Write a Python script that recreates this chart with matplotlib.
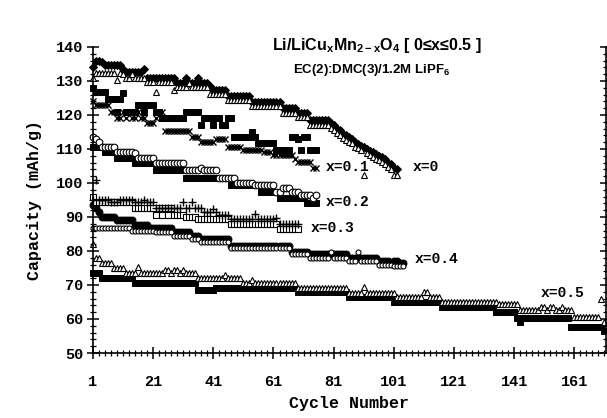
import matplotlib
matplotlib.use("Agg")
import matplotlib.pyplot as plt
from matplotlib.ticker import MultipleLocator, FixedLocator

plt.rcParams['mathtext.fontset'] = 'custom'
plt.rcParams['mathtext.rm'] = 'Liberation Sans:bold'
plt.rcParams['mathtext.it'] = 'Liberation Sans:bold'
plt.rcParams['mathtext.bf'] = 'Liberation Sans:bold'

# ---------------- data (capacity, mAh/g, one value per cycle starting at 1) -------------
x0_charge = [134, 136, 136, 135.7, 134.7, 134.7, 134.7, 134.7, 134.7, 134.7,
             133.5, 132.7, 132.7, 132.7, 132.7, 132.7, 132.7, 133.5, 130.8, 130.8,
             130.8, 130.8, 130.8, 130.8, 130.8, 130.8, 130.8, 130.8, 129.3, 129.3,
             129.3, 130.8, 129.3, 129.3, 129.3, 130.8, 129.3, 129.3, 129.3, 128.5,
             127.4, 127.4, 127.4, 127.4, 127.4, 125.6, 125.6, 125.6, 125.6, 125.6,
             125.6, 125.6, 125.6, 123.9, 123.9, 123.9, 123.9, 123.9, 123.9, 123.9,
             123.9, 123.9, 123.9, 122, 122, 122, 122, 122, 120.7, 120.7,
             120.7, 120.7, 118.5, 118.5, 118.5, 118.5, 118.5, 118.5, 118.5, 117.5,
             117, 116, 115.5, 114.5, 114, 113.5, 113, 112, 111.5, 111,
             110.5, 110, 109.5, 109, 108.5, 108, 107.5, 107, 106, 105.5,
             104.5, 104]
x0_disch = [131, 132.3, 132.3, 132.3, 132.3, 132.3, 132.3, 132.3, 130.3, 132.3,
            132, 131, 131, 132, 131, 131, 131, 131, 129.7, 129.7,
            129.7, 126.8, 129.7, 129.7, 129.7, 129.7, 129.7, 127.4, 128.2, 128.2,
            128.2, 128.2, 129.5, 128.2, 128.2, 128.2, 128.2, 128.2, 128.2, 126.2,
            126.2, 126.2, 126.2, 126.2, 126.2, 124.3, 124.3, 124.3, 124.3, 124.3,
            124.3, 124.3, 124.3, 122.6, 122.6, 122.6, 122.6, 122.6, 122.6, 122.6,
            122.6, 122.6, 122.6, 120.7, 120.7, 120.7, 120.7, 120.7, 119.4, 119.4,
            119.4, 119.4, 117.2, 117.2, 117.2, 117.2, 117.2, 117.2, 117.2, 116.2,
            115.7, 114.8, 114.2, 113.2, 112.7, 112.2, 111.7, 110.7, 110.2, 109.7,
            102.4, 108.7, 108.2, 107.7, 107.2, 106.7, 106.2, 105.7, 104.7, 104.2,
            102.4, 102.4]

x01_charge = [128, 126.8, 126.8, 126.8, 126.8, 124.7, 124.7, 124.7, 121, 124.7,
              126.5, 121, 121, 121, 121, 123, 123, 121, 123, 123,
              123, 121, 121, 119, 119, 119, 119, 119, 119, 119,
              119, 121, 121, 121, 121, 121, 117, 119, 119, 119,
              117, 119, 119, 117, 117, 119, 119, 113.5, 113.5, 113.5,
              113.5, 113.5, 113.5, 115, 113.5, 111.8, 111.8, 111.8, 111.8, 111.8,
              111.8, 109.7, 109.7, 109.7, 109.7, 109.7, 113.5, 113.5, 113, 109.7,
              113.5, 113.5, 109.7, 109.7, 109.7]
x01_disch = [124, 123, 123, 123, 123, 123, 121, 121, 119, 119,
             121, 119, 121, 119, 119, 121, 119, 119, 117.6, 117.6,
             117.6, 119, 121, 121, 115.3, 115.3, 115.3, 115.3, 115.3, 115.3,
             115.3, 115.3, 115.3, 113.5, 113.5, 113.5, 112, 112, 112, 112,
             112, 113, 113, 113, 113, 110.5, 110.5, 110.5, 110.5, 110.5,
             109.7, 109.7, 109.7, 109.7, 109.7, 109.7, 109.7, 109, 109, 109,
             108.2, 108.2, 108.2, 108.2, 108.2, 108.2, 108.2, 107, 106.2, 106.2,
             106.2, 106.2, 106.2, 104.4, 104.4]

x02_charge = [110.7, 110.7, 110.7, 110.7, 109, 109, 109, 109, 107.4, 107.4,
              107.4, 107.4, 107.4, 107.4, 105.8, 105.8, 105.8, 105.8, 105.8, 105.8,
              105.8, 103.8, 103.8, 103.8, 103.8, 103.8, 103.8, 103.8, 103.8, 103.8,
              103.8, 101.5, 101.5, 101.5, 101.5, 101.5, 101.5, 101.5, 101.5, 101.5,
              101.5, 101.5, 101.5, 101.5, 101.5, 101.5, 99.4, 99.4, 99.4, 99.4,
              99.4, 99.4, 99.4, 99.4, 99.4, 99.4, 97.4, 97.4, 97.4, 97.4,
              97.4, 97.4, 95.6, 95.6, 95.6, 95.6, 95.6, 95.6, 95.6, 95.6,
              95.6, 94.1, 94.1, 94.1, 94.1]
x02_disch = [113.5, 113, 112, 110.7, 110.7, 110.7, 110.7, 110.7, 109, 109,
             109, 109, 109, 109, 108.8, 107.4, 107.4, 107.4, 107.4, 107.4,
             107.4, 105.8, 105.8, 105.8, 105.8, 105.8, 105.8, 105.8, 105.8, 105.8,
             105.8, 103.8, 103.8, 103.8, 103.8, 103.8, 104.4, 103.8, 103.8, 103.8,
             103.8, 103.8, 101.5, 101.5, 101.5, 101.5, 101.5, 101.5, 100, 100,
             100, 100, 100, 100, 99.4, 99.4, 99.4, 99.4, 99.4, 99.4,
             99.4, 97.4, 97.4, 98.5, 98.5, 98.5, 97.4, 97.4, 97.4, 96.5,
             96.5, 96.5, 96.5, 95.6, 96.5]

x03_charge = [96, 94.4, 94.4, 94.4, 94.4, 94.4, 94.4, 94.4, 94.4, 94.4,
              94.4, 94.4, 94.4, 94.4, 92.6, 92.6, 92.6, 92.6, 92.6, 92.6,
              92.6, 90.6, 92.6, 90.6, 92.6, 90.6, 92.6, 90.6, 90.6, 90.6,
              90.6, 90, 90, 90, 90, 89.5, 89.5, 89.5, 89.5, 89.5,
              89.5, 89.5, 89.5, 89.5, 89.5, 89.5, 88, 88, 88, 88,
              88, 88, 88, 88, 88, 88, 88, 88, 88, 88,
              88, 88, 86.5, 86.5, 86.5, 86.5, 86.5, 86.5, 86.5]
x03_disch = [95, 101, 95, 95, 95, 95, 94.4, 94.4, 94.4, 95,
             95, 95, 95, 95, 94.4, 94.4, 94.4, 95, 94.4, 94.4,
             94.4, 92.6, 92.6, 92.6, 92.6, 92.6, 92.6, 92.6, 92.6, 92.6,
             94.4, 92.6, 92.6, 94.4, 92.6, 92.6, 92.6, 91.5, 91.5, 91.5,
             92.3, 91.5, 90.6, 90.6, 90.6, 90.6, 89.5, 89.5, 89.5, 89.5,
             89.5, 89.5, 89.5, 89.5, 91, 89.5, 89.5, 89.5, 89.5, 89.5,
             89.5, 89.7, 88, 88, 88, 88, 88, 88, 88]

x04_charge = [93.5, 92.5, 91.5, 90, 90, 90, 90, 90, 89, 89,
              89, 89, 89, 89, 87.6, 87.6, 87.6, 87.6, 87.6, 86.8,
              86.8, 86.8, 86.8, 86.8, 86.8, 86.8, 86.8, 85.5, 85.5, 85.5,
              85.5, 85.5, 85.5, 84.4, 84.4, 84.4, 83.5, 83.5, 83.5, 83.5,
              83.5, 83.5, 83.5, 83.5, 83.5, 83.5, 81.5, 81.5, 81.5, 81.5,
              81.5, 81.5, 81.5, 81.5, 81.5, 81.5, 81.5, 81.5, 81.5, 81.5,
              81.5, 81.5, 81.5, 81.5, 81.5, 81.5, 79.7, 79.7, 79.7, 79.7,
              79.7, 79.7, 79, 79, 79, 79, 79, 79, 79, 79,
              79, 79, 79, 79, 79, 78, 78, 78, 78, 78,
              78, 78, 78, 78, 78, 77, 77, 77, 77, 76.5,
              77, 77, 76.5, 76.5]
x04_disch = [86.8, 86.8, 86.8, 86.8, 86.8, 86.8, 86.8, 86.8, 86.8, 86.8,
             86.8, 86.8, 86.8, 86, 86, 86, 86, 86, 86, 86,
             86, 85.5, 85.5, 85.5, 85.5, 85.5, 85.5, 84.4, 84.4, 84.4,
             84.4, 84.4, 84.4, 83.5, 83.5, 83.5, 82.5, 82.5, 82.5, 82.5,
             82.5, 82.5, 82.5, 82.5, 82.5, 82.5, 81, 81, 81, 81,
             81, 81, 81, 81, 81, 81, 81, 81, 81, 81,
             81, 81, 81, 81, 81, 81, 79, 79, 79, 79,
             79, 79, 78, 78, 78, 78, 78, 78, 78, 79.7,
             78, 78, 78, 78, 78, 77, 77, 77, 79.7, 77,
             77, 77, 77, 77, 77, 76, 76, 76, 76, 76,
             75.5, 75.5, 75.5, 75.5]

x05_charge = [73.5, 73.5, 73.5, 72, 72, 72, 72, 72, 72, 72,
              72, 72, 72, 72, 70.6, 70.6, 70.6, 70.6, 70.6, 70.6,
              70.6, 70.6, 70.6, 70.6, 70.6, 70.6, 70.6, 70.6, 70.6, 70.6,
              70.6, 70.6, 70.6, 70.6, 70.6, 68.5, 68.5, 68.5, 68.5, 68.5,
              68.5, 69, 69, 69, 69, 69, 69, 69, 69, 69,
              69, 69, 69, 69, 69, 69, 69, 69, 69, 69,
              69, 69, 69, 69, 69, 69, 69, 69, 68, 68,
              68, 68, 68, 68, 68, 68, 68, 68, 68, 68,
              68, 68, 68, 68, 68, 66.5, 66.5, 66.5, 66.5, 66.5,
              66.5, 66.5, 66.5, 66.5, 66.5, 66.5, 66.5, 66.5, 66.5, 66.5,
              65, 65, 65, 65, 65, 65, 65, 65, 65, 65,
              65, 65, 65, 65, 65, 65, 63.5, 63.5, 63.5, 63.5,
              63.5, 63.5, 63.5, 63.5, 63.5, 63.5, 63.5, 63.5, 63.5, 63.5,
              63.5, 63.5, 63.5, 63.5, 62, 62, 62, 62, 62, 62,
              62, 60.3, 59, 60.3, 60.3, 60.3, 60.3, 60.3, 60.3, 60.3,
              60.3, 60.3, 60.3, 60.3, 60.3, 60.3, 60.3, 60.3, 60.3, 57.5,
              57.5, 57.5, 57.5, 57.5, 57.5, 57.5, 57.5, 57.5, 57.5, 57.5,
              56.5]
x05_disch = [82, 78, 78, 76.5, 76.5, 76.5, 76.5, 75, 75, 75,
             75, 73.5, 73.5, 73.5, 73.5, 75.3, 73.5, 73.5, 73.5, 73.5,
             73.5, 73.5, 73.5, 73.5, 74.5, 74.5, 73.5, 74.5, 74.5, 73.5,
             74.5, 73.5, 73.5, 73.5, 73.5, 72, 72, 72, 72, 72,
             72, 72, 72, 72, 73, 72, 72, 72, 72, 72,
             70.5, 70.5, 70.5, 71.5, 70.5, 70.5, 70.5, 70.5, 70.5, 70.5,
             70.5, 70.5, 70.5, 70.5, 70.5, 70.5, 70.5, 70.5, 69, 69,
             69, 69, 69, 69, 69, 69, 69, 69, 69, 69,
             69, 69, 69, 69, 69, 67.5, 67.5, 67.5, 67.5, 67.5,
             69.4, 67.5, 67.5, 67.5, 67.5, 67.5, 67.5, 67.5, 67.5, 67.5,
             67.5, 66.5, 66.5, 66.5, 66.5, 66.5, 66.5, 66.5, 66.5, 66.5,
             68, 68, 66.5, 66.5, 66.5, 66.5, 65, 65, 65, 65,
             65, 65, 65, 65, 65, 65, 65, 65, 65, 65,
             65, 65, 65, 65, 65, 64.5, 64.5, 64.5, 64.5, 64.5,
             64.5, 64.5, 62.5, 62.5, 62.5, 62.5, 62.5, 62.5, 62.5, 63.5,
             63.5, 62.5, 63.5, 63.5, 62.5, 62.5, 63.5, 62.5, 62.5, 62.5,
             60.6, 60.6, 60.6, 60.6, 60.6, 60.6, 60.6, 60.6, 60.6, 66,
             59]

series_labels = ["x=0", "x=0.1", "x=0.2", "x=0.3", "x=0.4", "x=0.5"]
xticks = [1, 21, 41, 61, 81, 101, 121, 141, 161]
yticks = [50, 60, 70, 80, 90, 100, 110, 120, 130, 140]

# ---------------- plot ----------------
fig = plt.figure(figsize=(6.07, 4.18), dpi=100)
ax = fig.add_axes([0.1532, 0.1555, 0.845, 0.7321])


def cyc(vals):
    return list(range(1, len(vals) + 1))


mono = 'Liberation Mono'
k = 'black'
common = dict(linestyle='none', clip_on=False, markeredgecolor=k)

# filled (charge) markers
ax.plot(cyc(x0_charge), x0_charge, marker='D', ms=4.0, mfc=k, mew=0.7, **common)
ax.plot(cyc(x01_charge), x01_charge, marker='s', ms=5.0, mfc=k, mew=0.7, **common)
ax.plot(cyc(x02_charge), x02_charge, marker='s', ms=4.8, mfc=k, mew=0.7, **common)
ax.plot(cyc(x04_charge), x04_charge, marker='o', ms=5.0, mfc=k, mew=0.7, **common)
ax.plot(cyc(x05_charge), x05_charge, marker='s', ms=4.8, mfc=k, mew=0.7, **common)

# open (discharge) markers
ax.plot(cyc(x0_disch), x0_disch, marker='^', ms=4.6, mfc='white', mew=0.8, **common)
ax.plot(cyc(x01_disch), x01_disch, marker='x', ms=4.8, mew=1.0, **common)
ax.plot(cyc(x02_disch), x02_disch, marker='o', ms=4.8, mfc='white', mew=0.8, **common)
ax.plot(cyc(x03_charge), x03_charge, marker='s', ms=4.4, mfc='white', mew=0.8, **common)
ax.plot(cyc(x03_disch), x03_disch, marker='+', ms=5.4, mew=1.0, **common)
ax.plot(cyc(x04_disch), x04_disch, marker='o', ms=3.6, mfc='white', mew=0.8, **common)
ax.plot(cyc(x05_disch), x05_disch, marker='^', ms=4.6, mfc='white', mew=0.8, **common)

ax.set_xlim(1, 171.5)
ax.set_ylim(50, 140)

ax.xaxis.set_major_locator(FixedLocator(xticks))
ax.xaxis.set_minor_locator(MultipleLocator(2, offset=1))
ax.yaxis.set_major_locator(FixedLocator(yticks))
ax.yaxis.set_minor_locator(MultipleLocator(2))

ax.spines['top'].set_visible(False)
for s in ['left', 'bottom', 'right']:
    ax.spines[s].set_linewidth(1.2)
ax.tick_params(which='major', direction='inout', length=8, width=1.1,
               labelsize=11, right=True, top=False)
ax.tick_params(which='minor', direction='inout', length=4, width=0.9,
               right=True, top=False)
ax.tick_params(axis='x', pad=12)
ax.tick_params(axis='y', pad=3)
for lab in ax.get_xticklabels() + ax.get_yticklabels():
    lab.set_fontfamily(mono)
    lab.set_fontweight('bold')

ax.set_xlabel('Cycle Number', fontfamily=mono, fontweight='bold', fontsize=12, labelpad=5)
ax.set_ylabel('Capacity (mAh/g)', fontfamily=mono, fontweight='bold', fontsize=12, labelpad=10)

# series labels
lab_pos = [(107.3, 104.7), (78.2, 104.7), (78.5, 94.4), (73.5, 86.8), (108.0, 77.6), (149.7, 67.6)]
for txt, (xx, yy) in zip(series_labels, lab_pos):
    ax.text(xx, yy, txt, fontfamily=mono, fontweight='bold', fontsize=10.5,
            ha='left', va='center')

fig.text(0.621, 0.89, 'Li/LiCu$_x$Mn$_{2-x}$O$_4$ [ 0≤x≤0.5 ]',
         family=['Liberation Sans', 'DejaVu Sans'], fontweight='bold', fontsize=11.5,
         ha='center', va='center')
fig.text(0.613, 0.833, 'EC(2):DMC(3)/1.2M LiPF$_6$',
         family=['Liberation Sans', 'DejaVu Sans'], fontweight='bold', fontsize=9.5,
         ha='center', va='center')

fig.savefig('out.png', dpi=100, facecolor='white')
